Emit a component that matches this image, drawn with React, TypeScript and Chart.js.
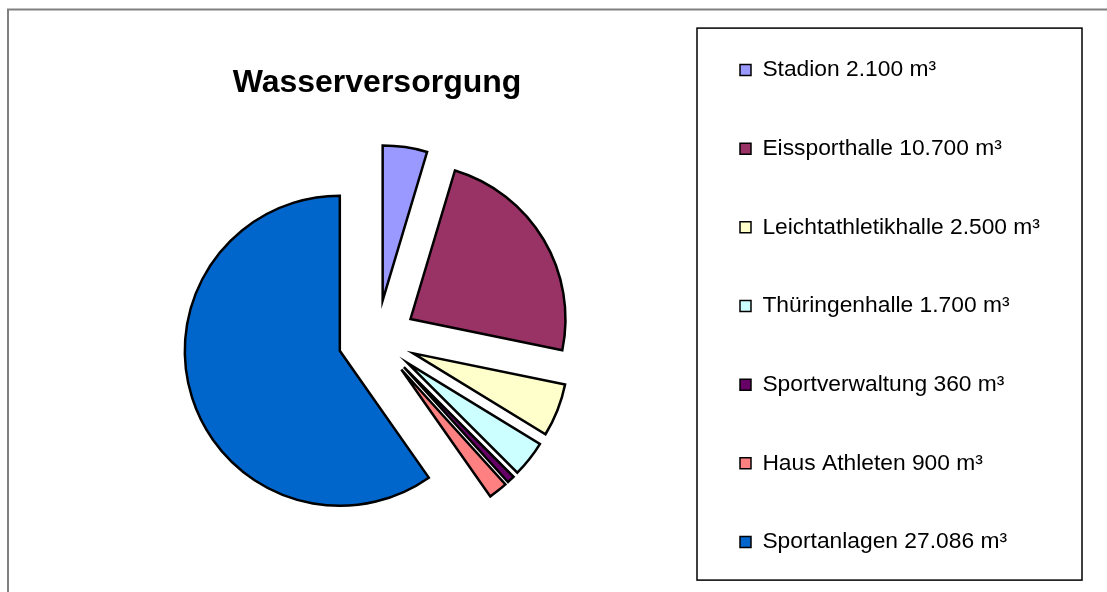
import React, { useEffect, useRef } from 'react';
import { Chart, registerables, ArcElement, PieController } from 'chart.js';

// ---- data ----
const categories = ['Stadion', 'Eissporthalle', 'Leichtathletikhalle', 'Thüringenhalle', 'Sportverwaltung', 'Haus Athleten', 'Sportanlagen'];
const values = [2100, 10700, 2500, 1700, 360, 900, 27086];
const valueLabels = ['2.100 m³', '10.700 m³', '2.500 m³', '1.700 m³', '360 m³', '900 m³', '27.086 m³'];
const colors = ['#9999FF', '#993366', '#FFFFCC', '#CCFFFF', '#660066', '#FF8080', '#0066CC'];
const titleText = 'Wasserversorgung';

// ---- style constants ----
const FONT = '"Liberation Sans", Arial, sans-serif';
const EXPLODE = 39;
const RADIUS = 155;
const LEGEND_PAD = 22;
const LEGEND_STEP = 78.67;
const LEGEND_FONT = 22.8;

// Exploded pie: every slice pulled out from the centre by the same distance
class ExplodedArc extends ArcElement {
  static id = 'explodedArc';
  draw(ctx: CanvasRenderingContext2D) {
    const self: any = this;
    const mid = (self.startAngle + self.endAngle) / 2;
    ctx.save();
    ctx.translate(Math.cos(mid) * EXPLODE, Math.sin(mid) * EXPLODE);
    super.draw(ctx);
    ctx.restore();
  }
}
class ExplodedPie extends PieController {
  static id = 'explodedPie';
  static defaults = { ...(PieController as any).defaults, dataElementType: 'explodedArc' };
}

Chart.register(...registerables, ExplodedArc as any, ExplodedPie as any);

const framePlugin = {
  id: 'frames',
  beforeDraw(chart: any) {
    const { ctx } = chart;
    ctx.save();
    ctx.strokeStyle = '#808080';
    ctx.lineWidth = 2;
    ctx.beginPath();
    ctx.moveTo(8, chart.height + 10);
    ctx.lineTo(8, 9.5);
    ctx.lineTo(chart.width + 10, 9.5);
    ctx.stroke();
    const lg = chart.legend;
    ctx.strokeStyle = '#000';
    ctx.lineWidth = 1.5;
    ctx.strokeRect(lg.left - 21, lg.top - 8.5, 385, 552);
    ctx.restore();
  },
};

export default function App() {
  const ref = useRef<HTMLCanvasElement>(null);
  useEffect(() => {
    if (!ref.current) return;
    const legendTexts = categories.map((c, i) => `${c} ${valueLabels[i]}`);
    const chart = new Chart(ref.current, {
      type: 'explodedPie' as any,
      data: {
        labels: legendTexts,
        datasets: [
          {
            data: values,
            backgroundColor: colors,
            borderColor: '#000',
            borderWidth: 2.5,
            borderJoinStyle: 'miter',
            radius: RADIUS,
            clip: false,
          } as any,
        ],
      },
      options: {
        animation: false,
        responsive: false,
        events: [],
        layout: { padding: { left: 36, right: 0, top: 36.6, bottom: 15 } },
        plugins: {
          tooltip: { enabled: false },
          title: {
            display: true,
            text: titleText,
            fullSize: false,
            color: '#000',
            font: { family: FONT, size: 32, weight: 'bold', lineHeight: 1 },
            padding: { top: 30.4, bottom: 2 },
          },
          legend: {
            display: true,
            position: 'right',
            align: 'start',
            maxWidth: 389,
            labels: {
              boxWidth: 11,
              boxHeight: 11,
              padding: LEGEND_PAD,
              color: '#000',
              font: { family: FONT, size: LEGEND_FONT, lineHeight: `${(LEGEND_STEP - LEGEND_PAD).toFixed(2)}px` },
              generateLabels: () =>
                legendTexts.map((t, i) => ({
                  text: [t] as any,
                  fillStyle: colors[i],
                  strokeStyle: '#000',
                  lineWidth: 1.5,
                  hidden: false,
                  index: i,
                  fontColor: '#000',
                })),
            },
          },
        },
      } as any,
      plugins: [framePlugin],
    });
    return () => chart.destroy();
  }, []);
  return (
    <div style={{ position: 'absolute', left: 0, top: 0, width: 1107, height: 592, background: '#fff' }}>
      <canvas ref={ref} width={1107} height={592} style={{ display: 'block' }} />
    </div>
  );
}
